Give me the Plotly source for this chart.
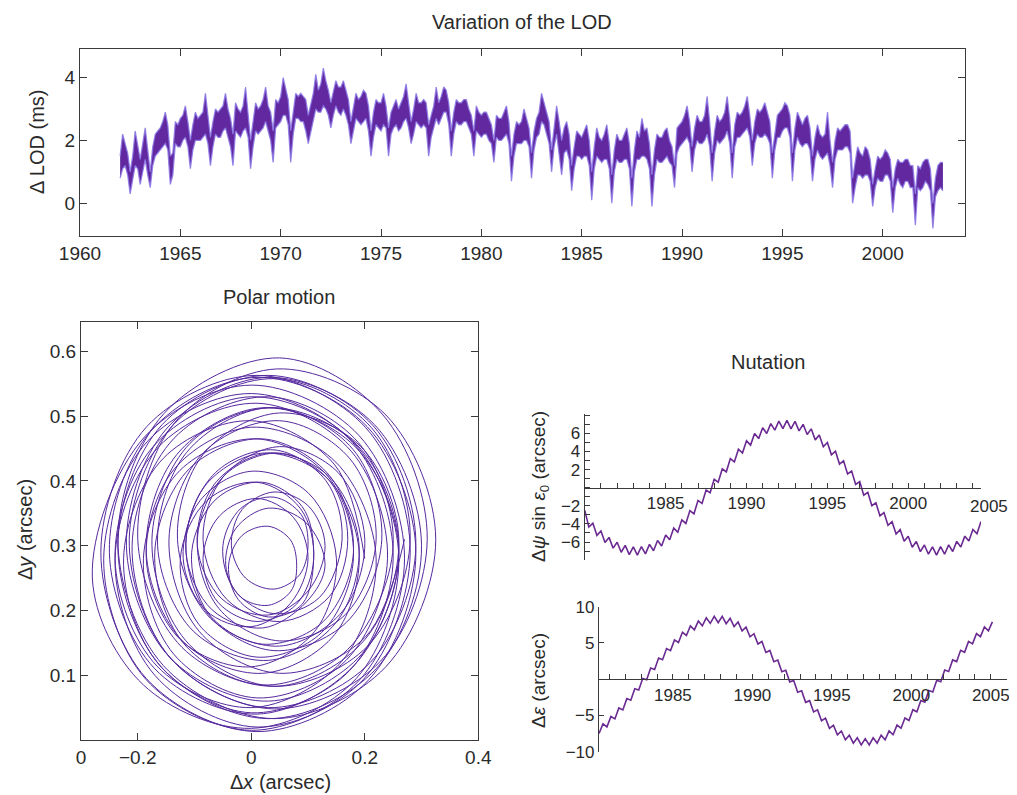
import numpy as np
import plotly.graph_objects as go

# page body has an 8 px margin; figure covers window pixels 8..1017 x 8..795
OX, OY = 8, 8
W, H = 1009, 787
def fx(px): return (px - OX) / W
def fy(py): return 1 - (py - OY) / H

# ---------------- Variation of the LOD (ms): band edges, 8 samples per year ----------------
LOD_START = 1962.0
LOD_STEP = 0.125
LOD_UPPER = [
    1.5, 2.2, 1.9, 1.6, 1.0, 1.5, 2.3, 1.8,    # 1962
    1.4, 1.9, 2.4, 1.7, 1.0, 1.8, 2.2, 2.3,    # 1963
    2.4, 2.6, 2.9, 2.5, 1.5, 1.6, 2.6, 2.5,    # 1964
    2.7, 2.8, 3.1, 2.6, 2.0, 2.5, 2.9, 2.7,    # 1965
    2.8, 2.9, 3.5, 2.8, 2.1, 2.6, 3.0, 2.9,    # 1966
    3.0, 3.1, 3.5, 3.0, 2.7, 2.2, 3.2, 3.0,    # 1967
    2.9, 3.1, 3.7, 2.9, 2.0, 2.6, 3.2, 3.0,    # 1968
    3.1, 3.3, 3.7, 3.1, 2.9, 2.3, 3.3, 3.2,    # 1969
    3.4, 4.0, 3.6, 3.3, 2.3, 3.0, 3.5, 3.4,    # 1970
    3.5, 3.4, 3.3, 2.8, 3.2, 3.5, 4.1, 3.6,    # 1971
    3.8, 4.3, 3.9, 3.6, 3.2, 3.6, 3.9, 3.7,    # 1972
    3.7, 3.9, 3.6, 3.3, 2.6, 3.1, 3.5, 3.3,    # 1973
    3.4, 3.6, 3.5, 3.1, 2.3, 2.9, 3.3, 3.2,    # 1974
    3.2, 3.5, 3.1, 2.4, 2.9, 3.1, 3.3, 3.0,    # 1975
    3.2, 3.4, 3.8, 3.2, 2.6, 3.0, 3.5, 3.2,    # 1976
    3.2, 3.3, 3.2, 2.5, 2.8, 3.1, 3.7, 3.2,    # 1977
    3.4, 3.7, 3.6, 3.2, 2.3, 2.9, 3.3, 3.2,    # 1978
    3.2, 3.3, 3.3, 3.0, 2.8, 2.3, 3.1, 2.9,    # 1979
    2.8, 2.9, 2.9, 2.7, 2.5, 2.0, 2.8, 2.7,    # 1980
    2.7, 2.9, 3.1, 2.6, 1.5, 2.2, 2.6, 2.5,    # 1981
    2.6, 3.0, 2.7, 2.4, 1.6, 2.3, 2.7, 2.9,    # 1982
    3.5, 3.2, 2.9, 2.6, 1.7, 2.5, 3.1, 2.6,    # 1983
    2.0, 2.4, 2.6, 2.2, 1.2, 1.8, 2.3, 2.2,    # 1984
    2.1, 2.3, 2.5, 2.0, 1.0, 1.8, 2.4, 2.1,    # 1985
    2.0, 2.2, 2.5, 1.9, 0.9, 1.7, 2.2, 2.0,    # 1986
    2.0, 2.2, 2.4, 1.9, 0.8, 1.7, 2.3, 2.1,    # 1987
    2.7, 2.3, 2.4, 1.9, 0.9, 1.7, 2.2, 2.1,    # 1988
    2.1, 2.3, 2.4, 2.0, 1.8, 1.2, 2.4, 2.5,    # 1989
    2.6, 2.8, 3.1, 2.6, 1.8, 2.4, 2.8, 2.6,    # 1990
    2.6, 2.8, 3.4, 2.6, 1.6, 2.3, 2.8, 2.6,    # 1991
    2.7, 2.9, 3.4, 2.7, 1.6, 2.5, 2.9, 2.8,    # 1992
    2.9, 3.1, 3.4, 2.8, 2.0, 2.6, 3.0, 2.9,    # 1993
    3.0, 3.2, 2.9, 2.6, 1.6, 2.3, 2.8, 2.9,    # 1994
    3.0, 3.2, 3.1, 2.8, 1.6, 2.4, 2.9, 2.7,    # 1995
    2.5, 2.7, 2.8, 2.4, 1.5, 2.1, 2.5, 2.2,    # 1996
    2.1, 2.2, 2.9, 2.0, 1.3, 2.0, 2.4, 2.3,    # 1997
    2.4, 2.5, 2.5, 2.3, 0.8, 1.3, 1.8, 1.6,    # 1998
    1.5, 1.8, 1.7, 1.4, 0.6, 1.1, 1.5, 1.4,    # 1999
    1.5, 1.7, 1.6, 1.4, 0.5, 1.1, 1.4, 1.3,    # 2000
    1.3, 1.4, 1.4, 1.2, 1.2, 0.3, 1.2, 1.1,    # 2001
    1.3, 1.4, 1.4, 1.1, 0.0, 0.8, 1.2, 1.3,    # 2002
    1.3,                                       # 2003
]
LOD_LOWER = [
    0.8, 1.1, 1.2, 0.9, 0.3, 0.8, 1.2, 1.1,    # 1962
    0.6, 1.0, 1.4, 0.9, 0.5, 1.2, 1.5, 1.6,    # 1963
    1.7, 1.8, 1.9, 1.7, 0.6, 0.9, 1.9, 1.8,    # 1964
    1.8, 2.0, 2.1, 1.8, 1.1, 1.7, 2.0, 2.0,    # 1965
    2.0, 2.1, 2.2, 1.9, 1.2, 1.8, 2.2, 2.1,    # 1966
    2.1, 2.3, 2.4, 2.1, 1.8, 1.2, 2.3, 2.2,    # 1967
    2.1, 2.3, 2.4, 2.1, 1.1, 1.8, 2.3, 2.2,    # 1968
    2.3, 2.4, 2.6, 2.3, 2.0, 1.3, 2.4, 2.5,    # 1969
    2.6, 2.8, 2.8, 2.5, 1.3, 2.2, 2.7, 2.7,    # 1970
    2.6, 2.6, 2.3, 1.9, 2.3, 2.6, 3.0, 2.9,    # 1971
    2.9, 3.1, 3.0, 2.8, 2.4, 2.8, 3.1, 2.9,    # 1972
    2.8, 3.0, 2.8, 2.5, 1.9, 2.3, 2.7, 2.6,    # 1973
    2.5, 2.6, 2.7, 2.3, 1.5, 2.1, 2.5, 2.4,    # 1974
    2.3, 2.5, 2.4, 1.5, 2.2, 2.4, 2.5, 2.3,    # 1975
    2.4, 2.6, 2.7, 2.4, 1.9, 2.2, 2.6, 2.5,    # 1976
    2.4, 2.5, 2.4, 1.5, 2.1, 2.4, 2.7, 2.5,    # 1977
    2.7, 2.9, 2.9, 2.5, 1.5, 2.2, 2.6, 2.5,    # 1978
    2.5, 2.6, 2.6, 2.4, 2.2, 1.5, 2.3, 2.2,    # 1979
    2.1, 2.2, 2.2, 2.0, 1.9, 1.3, 2.1, 2.0,    # 1980
    2.0, 2.1, 2.2, 1.9, 0.7, 1.5, 1.9, 1.9,    # 1981
    1.9, 2.0, 2.0, 1.8, 0.8, 1.7, 2.1, 2.2,    # 1982
    2.6, 2.5, 2.2, 1.9, 1.0, 1.8, 2.2, 1.6,    # 1983
    0.9, 1.6, 1.7, 1.4, 0.4, 1.1, 1.5, 1.5,    # 1984
    1.4, 1.5, 1.5, 1.2, 0.1, 1.1, 1.5, 1.4,    # 1985
    1.3, 1.4, 1.4, 1.1, 0.0, 1.0, 1.4, 1.3,    # 1986
    1.3, 1.4, 1.4, 1.1, -0.1, 1.0, 1.4, 1.4,   # 1987
    1.5, 1.5, 1.4, 1.1, -0.1, 0.9, 1.4, 1.3,   # 1988
    1.3, 1.4, 1.5, 1.3, 1.2, 0.5, 1.6, 1.8,    # 1989
    1.9, 2.0, 2.1, 1.9, 1.0, 1.7, 2.0, 1.9,    # 1990
    1.9, 2.0, 2.2, 1.8, 0.7, 1.6, 2.0, 1.9,    # 1991
    2.0, 2.1, 2.3, 1.9, 0.8, 1.8, 2.1, 2.1,    # 1992
    2.2, 2.3, 2.4, 2.1, 1.2, 1.9, 2.2, 2.1,    # 1993
    2.1, 2.2, 2.1, 1.9, 0.8, 1.7, 2.1, 2.1,    # 1994
    2.3, 2.4, 2.4, 2.1, 0.7, 1.7, 2.1, 1.9,    # 1995
    1.8, 1.9, 1.9, 1.7, 0.7, 1.4, 1.7, 1.5,    # 1996
    1.4, 1.5, 1.6, 1.2, 0.5, 1.4, 1.7, 1.7,    # 1997
    1.7, 1.8, 1.8, 1.6, 0.0, 0.5, 0.9, 0.9,    # 1998
    0.8, 0.9, 0.9, 0.7, -0.1, 0.5, 0.8, 0.7,   # 1999
    0.7, 0.9, 0.9, 0.7, -0.3, 0.5, 0.8, 0.6,   # 2000
    0.5, 0.7, 0.7, 0.5, 0.5, -0.7, 0.5, 0.4,   # 2001
    0.5, 0.7, 0.6, 0.4, -0.8, 0.2, 0.4, 0.5,   # 2002
    0.4,                                       # 2003
]
LOD_XTICKS = [1960, 1965, 1970, 1975, 1980, 1985, 1990, 1995, 2000]
LOD_YTICKS = [0, 2, 4]

# ---------------- Polar motion (arcsec) ----------------
POLAR_X = [
    0.200, 0.146, 0.000, -0.155, -0.225, -0.163, 0.000, 0.173,
    0.250, 0.179, 0.000, -0.182, -0.260, -0.186, 0.000, 0.189,
    0.270, 0.190, 0.000, -0.188, -0.280, -0.190, 0.000, 0.185,
    0.260, 0.180, 0.000, -0.173, -0.240, -0.166, 0.000, 0.159,
    0.220, 0.149, 0.000, -0.137, -0.185, -0.125, 0.000, 0.112,
    0.150, 0.101, 0.000, -0.090, -0.120, -0.080, 0.000, 0.069,
    0.100, 0.074, 0.010, -0.056, -0.085, -0.058, 0.010, 0.080,
    0.110, 0.087, 0.010, -0.079, -0.125, -0.092, 0.010, 0.124,
    0.180, 0.136, 0.010, -0.126, -0.190, -0.137, 0.010, 0.167,
    0.240, 0.176, 0.010, -0.163, -0.240, -0.170, 0.010, 0.197,
    0.280, 0.202, 0.010, -0.184, -0.265, -0.185, 0.010, 0.207,
    0.290, 0.204, 0.010, -0.177, -0.250, -0.170, 0.010, 0.183,
    0.260, 0.183, 0.020, -0.131, -0.185, -0.119, 0.020, 0.147,
    0.190, 0.134, 0.020, -0.082, -0.115, -0.069, 0.020, 0.097,
    0.130, 0.096, 0.030, -0.027, -0.045, -0.019, 0.030, 0.070,
    0.080, 0.069, 0.030, -0.016, -0.040, -0.023, 0.030, 0.090,
    0.110, 0.090, 0.020, -0.062, -0.105, -0.075, 0.020, 0.127,
    0.180, 0.138, 0.020, -0.109, -0.170, -0.120, 0.020, 0.170,
    0.250, 0.189, 0.030, -0.136, -0.210, -0.143, 0.030, 0.210,
    0.290, 0.215, 0.030, -0.157, -0.235, -0.158, 0.030, 0.220,
    0.300, 0.217, 0.030, -0.150, -0.220, -0.143, 0.030, 0.196,
    0.260, 0.186, 0.030, -0.114, -0.165, -0.102, 0.030, 0.149,
    0.190, 0.137, 0.030, -0.065, -0.095, -0.052, 0.030, 0.100,
    0.130, 0.101, 0.040, -0.016, -0.035, -0.010, 0.040, 0.085,
    0.100, 0.088, 0.040, -0.018, -0.050, -0.029, 0.040, 0.120,
    0.160, 0.131, 0.040, -0.063, -0.115, -0.076, 0.040, 0.168,
    0.230, 0.179, 0.040, -0.108, -0.175, -0.116, 0.040, 0.205,
    0.280, 0.212, 0.040, -0.137, -0.215, -0.143, 0.040, 0.228,
    0.310, 0.232, 0.050, -0.154, -0.235, -0.155, 0.040, 0.237,
    0.325, 0.237, 0.045, -0.135, -0.200, -0.122, 0.045, 0.200,
    0.260, 0.193, 0.050, -0.083, -0.130, -0.072, 0.050, 0.161,
    0.200, 0.153, 0.050, -0.048, -0.085, -0.043, 0.050, 0.138,
    0.170, 0.139, 0.050, -0.048, -0.095, -0.057, 0.050, 0.166,
    0.220, 0.174, 0.050, -0.084, -0.145, -0.092, 0.050, 0.201,
    0.270,
]
POLAR_Y = [
    0.280, 0.426, 0.493, 0.435, 0.280, 0.117, 0.042, 0.107,
    0.280, 0.459, 0.535, 0.462, 0.280, 0.094, 0.015, 0.091,
    0.280, 0.470, 0.548, 0.468, 0.250, 0.085, 0.018, 0.095,
    0.280, 0.460, 0.530, 0.453, 0.280, 0.114, 0.050, 0.121,
    0.280, 0.429, 0.483, 0.417, 0.280, 0.155, 0.113, 0.168,
    0.280, 0.381, 0.415, 0.370, 0.280, 0.200, 0.175, 0.211,
    0.280, 0.344, 0.373, 0.346, 0.280, 0.212, 0.183, 0.210,
    0.280, 0.357, 0.398, 0.369, 0.280, 0.178, 0.128, 0.166,
    0.280, 0.406, 0.465, 0.416, 0.280, 0.133, 0.065, 0.123,
    0.280, 0.446, 0.520, 0.453, 0.280, 0.100, 0.020, 0.093,
    0.290, 0.482, 0.563, 0.484, 0.290, 0.095, 0.013, 0.093,
    0.290, 0.484, 0.560, 0.477, 0.290, 0.110, 0.040, 0.117,
    0.290, 0.453, 0.513, 0.441, 0.290, 0.151, 0.103, 0.163,
    0.290, 0.404, 0.443, 0.392, 0.290, 0.201, 0.173, 0.213,
    0.270, 0.336, 0.358, 0.327, 0.270, 0.221, 0.208, 0.230,
    0.270, 0.309, 0.330, 0.316, 0.270, 0.217, 0.190, 0.210,
    0.290, 0.360, 0.398, 0.372, 0.290, 0.195, 0.148, 0.183,
    0.290, 0.408, 0.465, 0.419, 0.290, 0.150, 0.085, 0.140,
    0.300, 0.459, 0.530, 0.466, 0.300, 0.127, 0.050, 0.120,
    0.300, 0.485, 0.563, 0.487, 0.300, 0.112, 0.033, 0.110,
    0.300, 0.487, 0.560, 0.480, 0.300, 0.127, 0.060, 0.134,
    0.300, 0.456, 0.513, 0.444, 0.300, 0.168, 0.123, 0.181,
    0.300, 0.407, 0.443, 0.395, 0.300, 0.218, 0.193, 0.230,
    0.300, 0.361, 0.383, 0.356, 0.300, 0.250, 0.233, 0.255,
    0.300, 0.348, 0.375, 0.358, 0.300, 0.231, 0.195, 0.220,
    0.310, 0.401, 0.448, 0.413, 0.310, 0.194, 0.138, 0.182,
    0.310, 0.449, 0.513, 0.458, 0.310, 0.154, 0.083, 0.145,
    0.310, 0.482, 0.558, 0.487, 0.310, 0.127, 0.048, 0.122,
    0.310, 0.502, 0.590, 0.504, 0.310, 0.115, 0.033, 0.113,
    0.310, 0.502, 0.573, 0.490, 0.310, 0.143, 0.083, 0.155,
    0.310, 0.453, 0.505, 0.443, 0.310, 0.188, 0.145, 0.199,
    0.310, 0.413, 0.453, 0.408, 0.310, 0.217, 0.183, 0.222,
    0.310, 0.399, 0.443, 0.408, 0.310, 0.203, 0.153, 0.194,
    0.310, 0.434, 0.493, 0.444, 0.310, 0.168, 0.103, 0.159,
    0.310,
]
POLAR_XTICKS = [-0.3, -0.2, 0.0, 0.2, 0.4]
POLAR_XTICKTEXT = ["0", "\u22120.2", "0", "0.2", "0.4"]
POLAR_YTICKS = [0.1, 0.2, 0.3, 0.4, 0.5, 0.6]

# ---------------- Nutation (arcsec), 4 samples per year ----------------
PSI_START = 1980.0
PSI_STEP = 0.25
PSI_VALUES = [
    -2.50, -4.35, -3.93, -5.27, -4.78, -6.06, -5.49, -6.68, -6.03, -7.13,
    -6.38, -7.39, -6.54, -7.45, -6.50, -7.31, -6.26, -6.97, -5.83, -6.45,
    -5.22, -5.76, -4.46, -4.92, -3.55, -3.95, -2.52, -2.88, -1.41, -1.74,
    -0.25, -0.56, 0.93, 0.61, 2.09, 1.76, 3.22, 2.85, 4.26, 3.84,
    5.19, 4.71, 5.99, 5.43, 6.63, 5.99, 7.09, 6.36, 7.37, 6.53,
    7.45, 6.51, 7.33, 6.29, 7.01, 5.88, 6.51, 5.29, 5.83, 4.53,
    5.00, 3.64, 4.04, 2.62, 2.98, 1.52, 1.85, 0.37, 0.68, -0.82,
    -0.50, -1.99, -1.66, -3.11, -2.75, -4.16, -3.75, -5.11, -4.63, -5.92,
    -5.37, -6.58, -5.94, -7.06, -6.33, -7.35, -6.53, -7.45, -6.52, -7.35,
    -6.32, -7.05, -5.93, -6.56, -5.35, -5.90, -4.61, -5.09, -3.73,
]
EPS_START = 1980.35
EPS_STEP = 0.25
EPS_VALUES = [
    -7.50, -6.16, -6.58, -5.15, -5.48, -3.97, -4.24, -2.68, -2.90, -1.31,
    -1.50, 0.11, -0.08, 1.53, 1.33, 2.92, 2.69, 4.23, 3.94, 5.42,
    5.07, 6.47, 6.03, 7.35, 6.81, 8.02, 7.37, 8.47, 7.70, 8.68,
    7.80, 8.66, 7.65, 8.39, 7.27, 7.90, 6.66, 7.18, 5.85, 6.27,
    4.85, 5.19, 3.69, 3.96, 2.41, 2.63, 1.04, 1.24, -0.37, -0.19,
    -1.80, -1.60, -3.19, -2.96, -4.51, -4.23, -5.72, -5.37, -6.78, -6.35,
    -7.67, -7.15, -8.36, -7.73, -8.83, -8.08, -9.07, -8.20, -9.07, -8.08,
    -8.83, -7.72, -8.35, -7.13, -7.66, -6.33, -6.76, -5.35, -5.70, -4.21,
    -4.49, -2.94, -3.16, -1.57, -1.77, -0.16, -0.35, 1.26, 1.07, 2.66,
    2.43, 3.99, 3.71, 5.21, 4.87, 6.29, 5.87, 7.20, 6.68, 7.91,
]
PSI_YTICKS = list(range(-8, 9))
PSI_YLABELED = [-6, -4, -2, 2, 4, 6]
EPS_YTICKS = [-10, -5, 0, 5, 10]
EPS_YTICKTEXT = ["\u221210", "\u22125", "", "5", "10"]
NUT_XLABELED = [1985, 1990, 1995, 2000, 2005]

lod_t = LOD_START + LOD_STEP * np.arange(len(LOD_UPPER))
psi_t = PSI_START + PSI_STEP * np.arange(len(PSI_VALUES))
eps_t = EPS_START + EPS_STEP * np.arange(len(EPS_VALUES))

FONT = "Liberation Sans, Arial, Helvetica, sans-serif"
AX = "#3a3a3a"
TXT = "#2a2a2a"

fig = go.Figure()
fig.add_trace(go.Scatter(x=lod_t, y=LOD_LOWER, mode="lines", xaxis="x", yaxis="y",
                         line=dict(color="rgba(140,120,230,0.85)", width=1.3), hoverinfo="skip"))
fig.add_trace(go.Scatter(x=lod_t, y=LOD_UPPER, mode="lines", xaxis="x", yaxis="y",
                         fill="tonexty", fillcolor="rgba(88,28,155,0.95)",
                         line=dict(color="rgba(140,120,230,0.85)", width=1.3)))
fig.add_trace(go.Scatter(x=POLAR_X, y=POLAR_Y, mode="lines", xaxis="x2", yaxis="y2",
                         line=dict(color="#56299e", width=1.0, shape="spline", smoothing=1.0)))
fig.add_trace(go.Scatter(x=psi_t, y=PSI_VALUES, mode="lines", xaxis="x3", yaxis="y3",
                         line=dict(color="#6a2a92", width=1.6)))
fig.add_trace(go.Scatter(x=eps_t, y=EPS_VALUES, mode="lines", xaxis="x4", yaxis="y4",
                         line=dict(color="#6a2a92", width=1.6)))

box = dict(showline=True, linecolor=AX, linewidth=1, mirror="ticks", ticks="inside",
           ticklen=7, tickcolor=AX, tickwidth=1, showgrid=False, zeroline=False,
           automargin=False, tickfont=dict(size=19, color=TXT, family=FONT))

nut_x = dict(showline=True, linecolor=AX, linewidth=1.2, ticks="inside", ticklen=5,
             tickcolor=AX, showgrid=False, zeroline=False, automargin=False,
             tickfont=dict(size=17, color=TXT, family=FONT))
nut_y = dict(showline=True, linecolor=AX, linewidth=1.2, ticks="inside", ticklen=5,
             tickcolor=AX, showgrid=False, zeroline=False, automargin=False,
             tickfont=dict(size=17, color=TXT, family=FONT))

psi_xt = list(range(1980, 2005))
eps_xt = list(range(1981, 2006))

fig.update_layout(
    width=W, height=H, margin=dict(l=0, r=0, t=0, b=0, autoexpand=False),
    paper_bgcolor="white", plot_bgcolor="rgba(0,0,0,0)", showlegend=False,
    font=dict(family=FONT, color=TXT),
    xaxis=dict(box, domain=[fx(80), fx(965)], range=[1960, 2004.1], anchor="y",
               tickvals=LOD_XTICKS),
    yaxis=dict(box, domain=[fy(236), fy(49.3)], range=[-1.04, 4.9], anchor="x",
               tickvals=LOD_YTICKS),
    xaxis2=dict(box, domain=[fx(81), fx(478.3)], range=[-0.3, 0.4], anchor="y2",
                tickvals=POLAR_XTICKS, ticktext=POLAR_XTICKTEXT),
    yaxis2=dict(box, domain=[fy(740), fy(322.3)], range=[0, 0.645], anchor="x2",
                tickvals=POLAR_YTICKS, ticktext=[f"{v:.1f}" for v in POLAR_YTICKS]),
    xaxis3=dict(nut_x, domain=[fx(584.8), fx(981)], range=[1980, 2004.5], anchor="free",
                position=fy(487.7), tickvals=psi_xt,
                ticktext=[str(v) if v in NUT_XLABELED else "" for v in psi_xt]),
    yaxis3=dict(nut_y, domain=[fy(560.1), fy(414)], range=[-8.0, 8.15], anchor="x3",
                tickvals=PSI_YTICKS,
                ticktext=[(f"{v}".replace("-", "\u2212") if v in PSI_YLABELED else "") for v in PSI_YTICKS]),
    xaxis4=dict(nut_x, domain=[fx(599), fx(1006.7)], range=[1980.35, 2006.0], anchor="free",
                position=fy(679.3), tickvals=eps_xt,
                ticktext=[str(v) if v in NUT_XLABELED else "" for v in eps_xt]),
    yaxis4=dict(nut_y, domain=[fy(751.7), fy(606.7)], range=[-10, 10], anchor="x4",
                tickvals=EPS_YTICKS, ticktext=EPS_YTICKTEXT),
)

def ann(text, x, y, size=20, angle=0):
    fig.add_annotation(text=text, x=fx(x), y=fy(y), xref="paper", yref="paper",
                       showarrow=False, textangle=angle, xanchor="center", yanchor="middle",
                       font=dict(size=size, color=TXT, family=FONT))

ann("Variation of the LOD", 522, 22, 20)
ann("\u0394 LOD (ms)", 37, 142, 20, -90)
ann("Polar motion", 279, 297, 20)
ann("\u0394<i>x</i> (arcsec)", 280, 782, 20)
ann("\u0394<i>y</i> (arcsec)", 25, 530, 20, -90)
ann("Nutation", 768, 362, 20)
ann("\u0394<i>\u03c8</i> sin <i>\u03b5</i><sub>0</sub> (arcsec)", 540, 487, 19, -90)
ann("\u0394<i>\u03b5</i> (arcsec)", 538, 681, 19, -90)
ann("2005", 989, 506, 17)

fig.write_html("out.html")
